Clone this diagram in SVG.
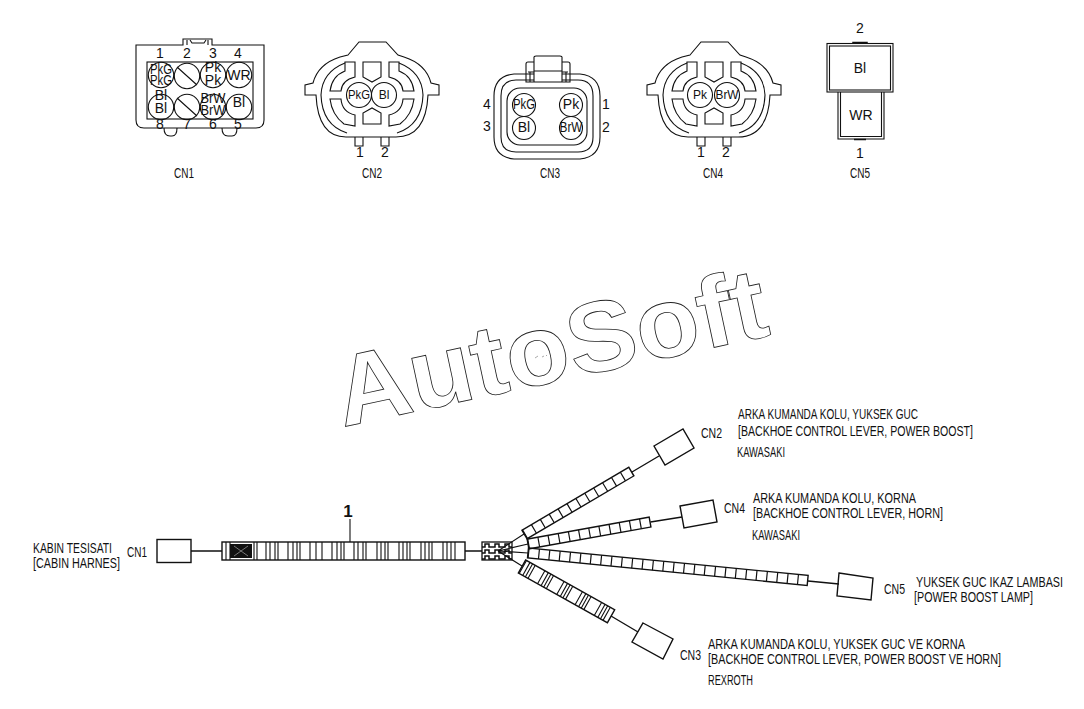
<svg xmlns="http://www.w3.org/2000/svg" width="1084" height="709" viewBox="0 0 1084 709">
<style>
text{font-family:"Liberation Sans",Arial,sans-serif;fill:#111;font-size:14px}
.s{fill:none;stroke:#111;stroke-width:1.1}
.b{fill:none;stroke:#111;stroke-width:1.4}
.m{text-anchor:middle}
.p{font-size:12px}
.d{font-size:11px}
.wm{fill:none;stroke:#222;stroke-width:.8;font-weight:bold;font-size:100px}
</style>
<defs>
<g id="oval">
<path class="s" d="M-24,55L-13,42H14L26,55L32,57Q54,64 59,83L67,85V95H56Q54,137 24,137H-26Q-54,137 -56,95H-67V85L-59,83Q-54,64 -32,57Z"/>
<path class="s" d="M-27,63Q-50,72 -51,95Q-50,125 -25,133M27,63Q50,72 51,95Q50,125 25,133"/>
<path class="s" d="M-42,91Q-40,76 -27,71V62H-17V77Q-30,80 -31,91ZM42,91Q40,76 27,71V62H17V77Q30,80 31,91ZM-42,99Q-40,115 -28,124L-17,126V115Q-30,112 -31,99ZM42,99Q40,115 28,124L17,126V115Q30,112 31,99Z"/>
<path class="s" d="M-9,62H9V77L0,82L-9,77ZM-9,124V113L0,108L9,113V124Z"/>
<path class="s" d="M-17,137V146H-9V137M9,137V146H17V137"/>
</g>
<pattern id="mesh" width="10" height="6" patternUnits="userSpaceOnUse" x="482" y="542">
<rect width="10" height="6" fill="#fff"/>
<path d="M0,5H3V2H7V5H10" fill="none" stroke="#111" stroke-width="1.5"/>
</pattern>
</defs>
<rect width="1084" height="709" fill="#fff"/>

<g id="watermark">
<text class="wm" x="343" y="427" transform="rotate(-12.1 343 427)" textLength="439" lengthAdjust="spacingAndGlyphs">AutoSoft</text>
<path d="M535,358l3,-2M542,357l2,-1M546,356l1,-1" stroke="#aaa" stroke-width="1" fill="none"/>
</g>

<g id="view-CN1">
<path class="s" d="M136,45H183V39H212V45H264V120Q264,128 256,128H144Q136,128 136,120Z"/>
<path class="s" d="M187,45V40M208,45V40M190,40L192,43H204L206,40"/>
<path class="s" d="M164,128Q164,136 170,136H172Q177,136 177,128M222,128Q222,136 228,136H232Q237,136 237,128"/>
<rect class="s" x="147" y="62" width="106" height="57"/>
<g class="s">
<circle cx="161" cy="75" r="12.7"/><circle cx="187" cy="76" r="12.7"/><circle cx="213" cy="75" r="12.7"/><circle cx="239" cy="75" r="12.7"/>
<circle cx="161" cy="107" r="12.7"/><circle cx="187" cy="107" r="12.7"/><circle cx="213" cy="107" r="12.7"/><circle cx="239" cy="107" r="12.7"/>
<path d="M177,67L197,85M177,98L197,116"/>
</g>
<g class="m p">
<text x="161" y="74" textLength="22" lengthAdjust="spacingAndGlyphs">PkG</text><text x="161" y="85" textLength="22" lengthAdjust="spacingAndGlyphs">PkG</text>
<text x="213" y="72">Pk</text><text x="213" y="85">Pk</text>
<text x="239" y="80">WR</text>
<text x="161" y="100">Bl</text><text x="161" y="113">Bl</text>
<text x="213" y="103" textLength="25" lengthAdjust="spacingAndGlyphs">BrW</text><text x="213" y="115" textLength="25" lengthAdjust="spacingAndGlyphs">BrW</text>
<text x="239" y="107">Bl</text>
</g>
<g class="m d">
<text x="160" y="58">1</text><text x="187" y="58">2</text><text x="213" y="58">3</text><text x="238" y="58">4</text>
<text x="160" y="129">8</text><text x="187" y="129">7</text><text x="213" y="129">6</text><text x="238" y="129">5</text>
</g>
<text class="m" x="184" y="178" textLength="20" lengthAdjust="spacingAndGlyphs">CN1</text>
</g>

<g id="view-CN2">
<use href="#oval" x="372" y="0"/>
<circle class="s" cx="359" cy="95" r="12.5"/><circle class="s" cx="384" cy="95" r="12.5"/>
<text class="m p" x="359" y="99" textLength="22" lengthAdjust="spacingAndGlyphs">PkG</text><text class="m p" x="384" y="99">Bl</text>
<text class="m" x="360" y="157">1</text><text class="m" x="385" y="157">2</text>
<text class="m" x="372" y="178" textLength="20" lengthAdjust="spacingAndGlyphs">CN2</text>
</g>

<g id="view-CN3">
<path class="s" d="M534,74H514Q494,76 494,96V137Q494,157 514,159H580Q600,157 600,137V96Q600,76 580,74H562"/>
<path class="s" d="M534,80H516Q501,80 501,96V137Q501,152 516,152H578Q593,152 593,137V96Q593,80 578,80H562"/>
<rect class="s" x="507" y="88" width="80" height="57" rx="13"/>
<path class="s" d="M534,82V57Q534,56 536,56H560Q562,56 562,57V82ZM534,62H528Q526,62 526,64V82H534M562,62H568Q570,62 570,64V82H562M528,72H534M562,72H568M534,71H562M530,72V82M566,72V82"/>
<circle class="s" cx="524" cy="105" r="11.5"/><circle class="s" cx="571" cy="105" r="11.5"/>
<circle class="s" cx="524" cy="128" r="11.5"/><circle class="s" cx="571" cy="128" r="11.5"/>
<g class="m p">
<text x="524" y="109" textLength="22" lengthAdjust="spacingAndGlyphs">PkG</text><text x="571" y="109">Pk</text>
<text x="524" y="132">Bl</text><text x="571" y="132" textLength="23" lengthAdjust="spacingAndGlyphs">BrW</text>
</g>
<g class="m d">
<text x="487" y="109">4</text><text x="487" y="131">3</text><text x="606" y="109">1</text><text x="606" y="132">2</text>
</g>
<text class="m" x="550" y="178" textLength="20" lengthAdjust="spacingAndGlyphs">CN3</text>
</g>

<g id="view-CN4">
<use href="#oval" x="714" y="0"/>
<circle class="s" cx="700" cy="95" r="12.5"/><circle class="s" cx="727" cy="95" r="12.5"/>
<text class="m p" x="700" y="99">Pk</text><text class="m p" x="727" y="99" textLength="23" lengthAdjust="spacingAndGlyphs">BrW</text>
<text class="m" x="701" y="157">1</text><text class="m" x="726" y="157">2</text>
<text class="m" x="713" y="178" textLength="20" lengthAdjust="spacingAndGlyphs">CN4</text>
</g>

<g id="view-CN5">
<rect class="s" x="827" y="43.500" width="66" height="48.500"/>
<rect class="s" x="829.500" y="46" width="61" height="44"/>
<path class="s" d="M838,92V139H884V92M840.500,92V136.500H881.500V92"/>
<path d="M853,43V42.500H867V43M854,139.500H866" fill="none" stroke="#111" stroke-width="1.5"/>
<text class="m" x="860" y="33">2</text>
<text class="m" x="860" y="73">Bl</text>
<text class="m" x="861" y="120">WR</text>
<text class="m" x="860" y="158">1</text>
<text class="m" x="860" y="178" textLength="20" lengthAdjust="spacingAndGlyphs">CN5</text>
</g>

<g id="connectors">
<path class="b" d="M191,551H222M465,551H482"/>
<path class="s" d="M350,519V542"/>
<path class="b" d="M632,472L659,456M650.500,522L682,517M808,581L839,584M611,616L638,632"/>
</g>

<g id="harness-main">
<rect class="b" x="222" y="542" width="243" height="18"/>
<path class="s" d="M226,542V560M230,542V560M254,542V560M257,542V560M266,542V560M270,542V560M275,542V560M278,542V560M288,542V560M293,542V560M297,542V560M300,542V560M310,542V560M316,542V560M322,542V560M332,542V560M337,542V560M341,542V560M344,542V560M354,542V560M358,542V560M363,542V560M366,542V560M377,542V560M381,542V560M385,542V560M388,542V560M399,542V560M403,542V560M407,542V560M410,542V560M421,542V560M425,542V560M429,542V560M432,542V560M443,542V560M447,542V560M451,542V560M455,542V560"/>
<rect x="230" y="544" width="22" height="14" fill="#111"/>
<path d="M234,546L248,556M234,556L248,546" stroke="#777" stroke-width="1" fill="none"/>
<rect x="482" y="542" width="30" height="18" fill="url(#mesh)" stroke="#111" stroke-width="1.300"/>
<path class="s" d="M498,551L524,534M498,551L528,544M498,551L528,553M498,551L522,566"/>
<text x="348" y="517" class="m" style="font-size:17px;font-weight:bold">1</text>
</g>

<g id="sleeve-CN2" transform="translate(524.500 534.500) rotate(-30.500)">
<line x1="0" y1="0" x2="124" y2="0" stroke="#111" stroke-width="10" stroke-dasharray="1.200 9.130"/>
<rect class="b" x="0" y="-5" width="124" height="10"/>
</g>
<g id="sleeve-CN4" transform="translate(528 544) rotate(-10.200)">
<line x1="0" y1="0" x2="124" y2="0" stroke="#111" stroke-width="10" stroke-dasharray="1.200 9.130"/>
<rect class="b" x="0" y="-5" width="124" height="10"/>
</g>
<g id="sleeve-CN5" transform="translate(528 553) rotate(5.600)">
<line x1="0" y1="0" x2="281" y2="0" stroke="#111" stroke-width="10" stroke-dasharray="1.200 9.210"/>
<rect class="b" x="0" y="-5" width="281" height="10"/>
</g>
<g id="sleeve-CN3" transform="translate(522 566.500) rotate(29.200)">
<rect class="b" x="0" y="-7.500" width="102" height="15"/>
<path class="s" d="M1,-7.500V7.500M5,-7.500V7.500M8,-7.500V7.500M11,-7.500V7.500M22,-7.500V7.500M26,-7.500V7.500M29,-7.500V7.500M32,-7.500V7.500M44,-7.500V7.500M48,-7.500V7.500M51,-7.500V7.500M54,-7.500V7.500M65,-7.500V7.500M69,-7.500V7.500M72,-7.500V7.500M75,-7.500V7.500M87,-7.500V7.500M91,-7.500V7.500M94,-7.500V7.500M97,-7.500V7.500"/>
</g>

<g id="box-CN1"><rect class="b" x="157" y="539.500" width="34" height="23"/></g>
<g id="box-CN2"><path class="b" d="M654,446L683,429L694,448L665,465Z"/></g>
<g id="box-CN4"><path class="b" d="M680,506L713,500L717,522L684,528Z"/></g>
<g id="box-CN5"><path class="b" d="M839,573L873,578L871,600L837,596Z"/></g>
<g id="box-CN3"><path class="b" d="M643,623L673,639L663,659L632,642Z"/></g>

<g id="labels">
<text transform="translate(33 553) scale(.8 1)" x="0" y="0" textLength="98.750" lengthAdjust="spacingAndGlyphs">KABIN TESISATI</text>
<text transform="translate(33 568) scale(.8 1)" x="0" y="0" textLength="108.750" lengthAdjust="spacingAndGlyphs">[CABIN HARNES]</text>
<text x="127" y="557" textLength="20" lengthAdjust="spacingAndGlyphs">CN1</text>
<text x="701" y="438" textLength="21" lengthAdjust="spacingAndGlyphs">CN2</text>
<text x="738" y="419" textLength="180" lengthAdjust="spacingAndGlyphs">ARKA KUMANDA KOLU, YUKSEK GUC</text>
<text x="738" y="436" textLength="235" lengthAdjust="spacingAndGlyphs">[BACKHOE CONTROL LEVER, POWER BOOST]</text>
<text x="737" y="457" textLength="48" lengthAdjust="spacingAndGlyphs">KAWASAKI</text>
<text x="724" y="513" textLength="21" lengthAdjust="spacingAndGlyphs">CN4</text>
<text x="753" y="503" textLength="163" lengthAdjust="spacingAndGlyphs">ARKA KUMANDA KOLU, KORNA</text>
<text x="753" y="518" textLength="190" lengthAdjust="spacingAndGlyphs">[BACKHOE CONTROL LEVER, HORN]</text>
<text x="752" y="540" textLength="48" lengthAdjust="spacingAndGlyphs">KAWASAKI</text>
<text x="884" y="594" textLength="21" lengthAdjust="spacingAndGlyphs">CN5</text>
<text transform="translate(916 587) scale(.75 1)" x="0" y="0" textLength="196" lengthAdjust="spacingAndGlyphs">YUKSEK GUC IKAZ LAMBASI</text>
<text x="914" y="602" textLength="119" lengthAdjust="spacingAndGlyphs">[POWER BOOST LAMP]</text>
<text x="680" y="660" textLength="21" lengthAdjust="spacingAndGlyphs">CN3</text>
<text transform="translate(708 649) scale(.75 1)" x="0" y="0" textLength="342.700" lengthAdjust="spacingAndGlyphs">ARKA KUMANDA KOLU, YUKSEK GUC VE KORNA</text>
<text transform="translate(708 664) scale(.75 1)" x="0" y="0" textLength="390.700" lengthAdjust="spacingAndGlyphs">[BACKHOE CONTROL LEVER, POWER BOOST VE HORN]</text>
<text x="708" y="685" textLength="45" lengthAdjust="spacingAndGlyphs">REXROTH</text>
</g>
</svg>
